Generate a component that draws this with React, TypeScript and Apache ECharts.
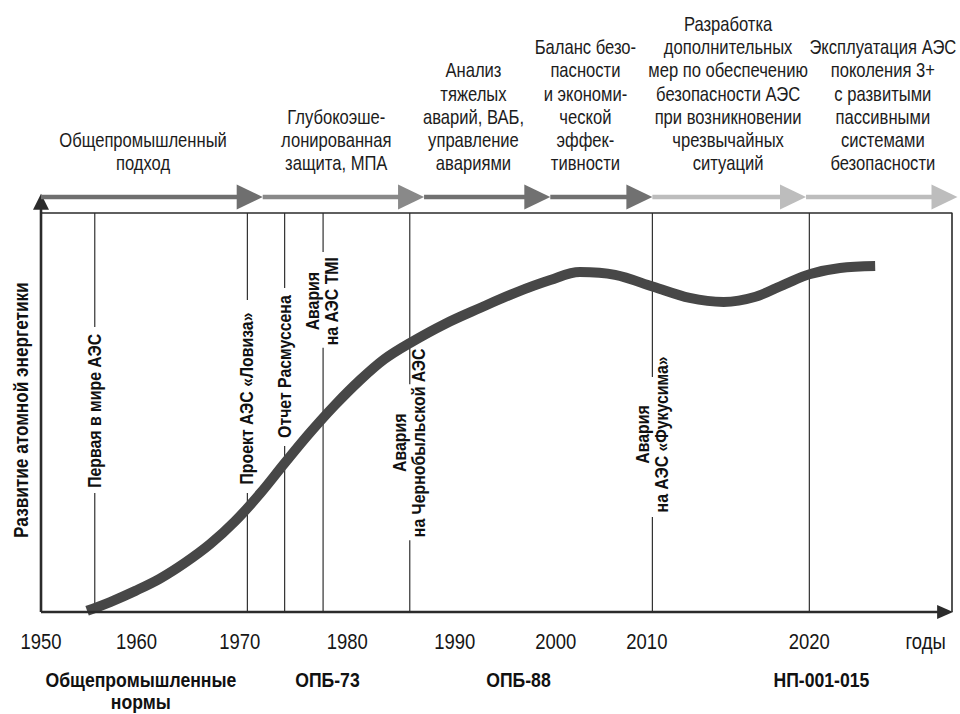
import React, { useEffect, useRef } from 'react';
import * as echarts from 'echarts';

// ---------- data ----------
const X_MIN = 1950;
const X_MAX = 2033;
const Y_MAX = 100;
const BAND_Y = 104.0;

// development curve (schematic timeline position, development level)
const CURVE_X = [1954.2, 1956.3, 1958.6, 1960.8, 1963.1, 1965.4, 1967.7, 1970.0, 1972.2, 1974.5, 1976.8, 1979.1, 1981.3, 1983.6, 1986.8, 1990.0, 1993.2, 1996.4, 1999.1, 2002.3, 2005.8, 2009.1, 2012.2, 2015.1, 2017.8, 2020.1, 2022.8, 2026.0];
const CURVE_Y = [0.3, 2.5, 5.3, 8.3, 12.3, 17.0, 22.8, 29.8, 37.3, 44.9, 51.9, 58.2, 63.4, 67.4, 72.2, 76.2, 80.0, 83.2, 85.2, 84.5, 81.5, 78.7, 77.7, 79.0, 82.2, 84.7, 86.2, 86.7];

// phases (top arrows)
const PHASE_LABELS = [
  'Общепромышленный\nподход',
  'Глубокоэше-\nлонированная\nзащита, МПА',
  'Анализ\nтяжелых\nаварий, ВАБ,\nуправление\nавариями',
  'Баланс безо-\nпасности\nи экономи-\nческой\nэффек-\nтивности',
  'Разработка\nдополнительных\nмер по обеспечению\nбезопасности АЭС\nпри возникновении\nчрезвычайных\nситуаций',
  'Эксплуатация АЭС\nпоколения 3+\nс развитыми\nпассивными\nсистемами\nбезопасности',
];
const PHASE_END = [1970.2, 1984.9, 1996.4, 2005.7, 2019.7, 2033.5];
const PHASE_LABEL_X = [1959.3, 1976.9, 1989.4, 1999.6, 2012.6, 2026.7];

// events (vertical lines)
const EVENT_LABELS = [
  'Первая в мире АЭС',
  'Проект АЭС «Ловиза»',
  'Отчет Расмуссена',
  'Авария\nна АЭС TMI',
  'Авария\nна Чернобыльской АЭС',
  'Авария\nна АЭС «Фукусима»',
];
const EVENT_X = [1954.9, 1968.8, 1972.2, 1975.7, 1983.6, 2005.7];
const EVENT_LABEL_Y = [50.4, 53.5, 61.5, 77.9, 42.4, 44.5];
const EVENT_GAP_TOP = [71.4, 78.2, 81.2, 90.2, 57.1, 58.9];
const EVENT_GAP_BOTTOM = [29.8, 29.8, 41.6, 66.2, 18.0, 23.8];
const DIVIDER_X = [2020.0];

// x-axis labels
const TICK_LABELS = ['1950', '1960', '1970', '1980', '1990', '2000', '2010', '2020', 'годы'];
const TICK_X = [1950.0, 1958.7, 1968.1, 1977.9, 1987.7, 1996.9, 2005.2, 2020.0, 2030.6];

// regulatory documents
const NORM_LABELS = ['Общепромышленные\nнормы', 'ОПБ-73', 'ОПБ-88', 'НП-001-015'];
const NORM_X = [1959.1, 1976.1, 1993.5, 2021.1];

const Y_TITLE = ['Развитие атомной энергетики'];
const Y_TITLE_POS = [50.6];

// ---------- styles ----------
const FONT = '"Liberation Sans", Arimo, Arial, sans-serif';
const PHASE_SHADES = ['#6f6f6f', '#898989', '#717171', '#717171', '#bdbdbd', '#bdbdbd'];
const AXIS_COLOR = '#2b2b2b';

function arrow(p0: number[], p1: number[], lw: number, headLen: number, headW: number, color: string) {
  const dx = p1[0] - p0[0];
  const dy = p1[1] - p0[1];
  const len = Math.hypot(dx, dy) || 1;
  const ux = dx / len;
  const uy = dy / len;
  const bx = p1[0] - ux * headLen;
  const by = p1[1] - uy * headLen;
  const nx = -uy;
  const ny = ux;
  return [
    {
      type: 'line',
      shape: { x1: p0[0], y1: p0[1], x2: bx + ux, y2: by + uy },
      style: { stroke: color, lineWidth: lw },
    },
    {
      type: 'polygon',
      shape: {
        points: [
          [p1[0], p1[1]],
          [bx + (nx * headW) / 2, by + (ny * headW) / 2],
          [bx - (nx * headW) / 2, by - (ny * headW) / 2],
        ],
      },
      style: { fill: color },
    },
  ];
}

type TextStyle = {
  fontSize: number;
  fontWeight?: string;
  lineHeight?: number;
  scaleX: number;
  rotation?: number;
  align: string;
  verticalAlign: string;
  dx?: number;
  dy?: number;
  fill?: string;
};

function textSeries(xs: number[], ys: number[], texts: string[], st: TextStyle) {
  return {
    type: 'custom',
    silent: true,
    clip: false,
    z: 10,
    data: xs.map((x, i) => [x, ys[i], i]),
    renderItem: (_p: any, api: any) => {
      const pt = api.coord([api.value(0), api.value(1)]);
      const i = api.value(2);
      return {
        type: 'text',
        x: pt[0] + (st.dx || 0),
        y: pt[1] + (st.dy || 0),
        rotation: st.rotation || 0,
        scaleX: st.scaleX,
        scaleY: 1,
        style: {
          text: texts[i],
          fontFamily: FONT,
          fontSize: st.fontSize,
          fontWeight: st.fontWeight || 'normal',
          lineHeight: st.lineHeight || st.fontSize * 1.2,
          fill: st.fill || '#161616',
          align: st.align,
          verticalAlign: st.verticalAlign,
        },
      };
    },
  };
}

export default function App() {
  const ref = useRef<HTMLDivElement>(null);

  useEffect(() => {
    if (!ref.current) return;
    const chart = echarts.init(ref.current, null, { renderer: 'svg' });

    const phaseData = PHASE_END.map((end, i) => [i === 0 ? X_MIN : PHASE_END[i - 1], end, i]);
    const eventLineData = EVENT_X.map((x, i) => [x, EVENT_GAP_TOP[i], EVENT_GAP_BOTTOM[i]]).concat(
      DIVIDER_X.map((x) => [x, Y_MAX, Y_MAX])
    );

    const option: any = {
      animation: false,
      backgroundColor: '#ffffff',
      grid: { left: 41, right: 8, top: 213, bottom: 102, containLabel: false },
      xAxis: {
        type: 'value',
        min: X_MIN,
        max: X_MAX,
        axisLine: { show: false },
        axisTick: { show: false },
        axisLabel: { show: false },
        splitLine: { show: false },
      },
      yAxis: {
        type: 'value',
        min: 0,
        max: Y_MAX,
        axisLine: { show: false },
        axisTick: { show: false },
        axisLabel: { show: false },
        splitLine: { show: false },
      },
      series: [
        // event vertical lines
        {
          type: 'custom',
          silent: true,
          z: 1,
          data: eventLineData,
          renderItem: (_p: any, api: any) => {
            const x = api.value(0);
            const top = api.coord([x, Y_MAX]);
            const bot = api.coord([x, 0]);
            const a = api.coord([x, api.value(1)]);
            const b = api.coord([x, api.value(2)]);
            const st = { stroke: '#1e1e1e', lineWidth: 1.1 };
            return {
              type: 'group',
              children: [
                { type: 'line', shape: { x1: top[0], y1: top[1], x2: a[0], y2: a[1] }, style: st },
                { type: 'line', shape: { x1: b[0], y1: b[1], x2: bot[0], y2: bot[1] }, style: st },
              ],
            };
          },
        },
        // development curve
        {
          type: 'line',
          silent: true,
          z: 2,
          smooth: 0.35,
          symbol: 'none',
          clip: false,
          lineStyle: { width: 10, color: '#474747', cap: 'butt' },
          data: CURVE_X.map((x, i) => [x, CURVE_Y[i]]),
        },
        // frame (top and right)
        {
          type: 'line',
          silent: true,
          z: 3,
          symbol: 'none',
          clip: false,
          lineStyle: { width: 1.6, color: AXIS_COLOR },
          data: [
            [X_MIN, Y_MAX],
            [X_MAX, Y_MAX],
            [X_MAX, 0],
          ],
        },
        // axes with arrows
        {
          type: 'custom',
          silent: true,
          z: 4,
          clip: false,
          data: [
            [X_MIN, 0, X_MAX + 0.1, 0],
            [X_MIN, 0, X_MIN, 104.8],
          ],
          renderItem: (p: any, api: any) => {
            const p0 = api.coord([api.value(0), api.value(1)]);
            const p1 = api.coord([api.value(2), api.value(3)]);
            const horiz = p.dataIndex === 0;
            return {
              type: 'group',
              children: arrow(p0, p1, 2.6, 16, horiz ? 14 : 16, AXIS_COLOR),
            };
          },
        },
        // phase arrows
        {
          type: 'custom',
          silent: true,
          z: 4,
          clip: false,
          data: phaseData,
          renderItem: (p: any, api: any) => {
            const p0 = api.coord([api.value(0), BAND_Y]);
            const p1 = api.coord([api.value(1), BAND_Y]);
            return {
              type: 'group',
              children: arrow(p0, p1, 4.5, 26, 25, PHASE_SHADES[p.dataIndex]),
            };
          },
        },
        // phase labels
        textSeries(PHASE_LABEL_X, PHASE_LABEL_X.map(() => BAND_Y), PHASE_LABELS, {
          fontSize: 20,
          lineHeight: 23.2,
          scaleX: 0.83,
          align: 'center',
          verticalAlign: 'bottom',
          dy: -22.4,
          fill: '#1c1c1c',
        }),
        // event labels
        textSeries(EVENT_X, EVENT_LABEL_Y, EVENT_LABELS, {
          fontSize: 18,
          fontWeight: 'bold',
          lineHeight: 19,
          scaleX: 0.88,
          rotation: Math.PI / 2,
          align: 'center',
          verticalAlign: 'middle',
          fill: '#111111',
        }),
        // tick labels
        textSeries(TICK_X, TICK_X.map(() => 0), TICK_LABELS, {
          fontSize: 22,
          scaleX: 0.84,
          align: 'center',
          verticalAlign: 'middle',
          dy: 29,
        }),
        // norm labels
        textSeries(NORM_X, NORM_X.map(() => 0), NORM_LABELS, {
          fontSize: 21,
          fontWeight: 'bold',
          lineHeight: 22,
          scaleX: 0.84,
          align: 'center',
          verticalAlign: 'top',
          dy: 56.5,
          fill: '#111111',
        }),
        // y-axis title
        textSeries([X_MIN], Y_TITLE_POS, Y_TITLE, {
          fontSize: 20,
          fontWeight: 'bold',
          scaleX: 0.86,
          rotation: Math.PI / 2,
          align: 'center',
          verticalAlign: 'middle',
          dx: -20,
          fill: '#111111',
        }),
      ],
    };

    chart.setOption(option);
    return () => chart.dispose();
  }, []);

  return (
    <div
      ref={ref}
      style={{ position: 'fixed', left: 0, top: 0, width: 960, height: 714, background: '#ffffff' }}
    />
  );
}
